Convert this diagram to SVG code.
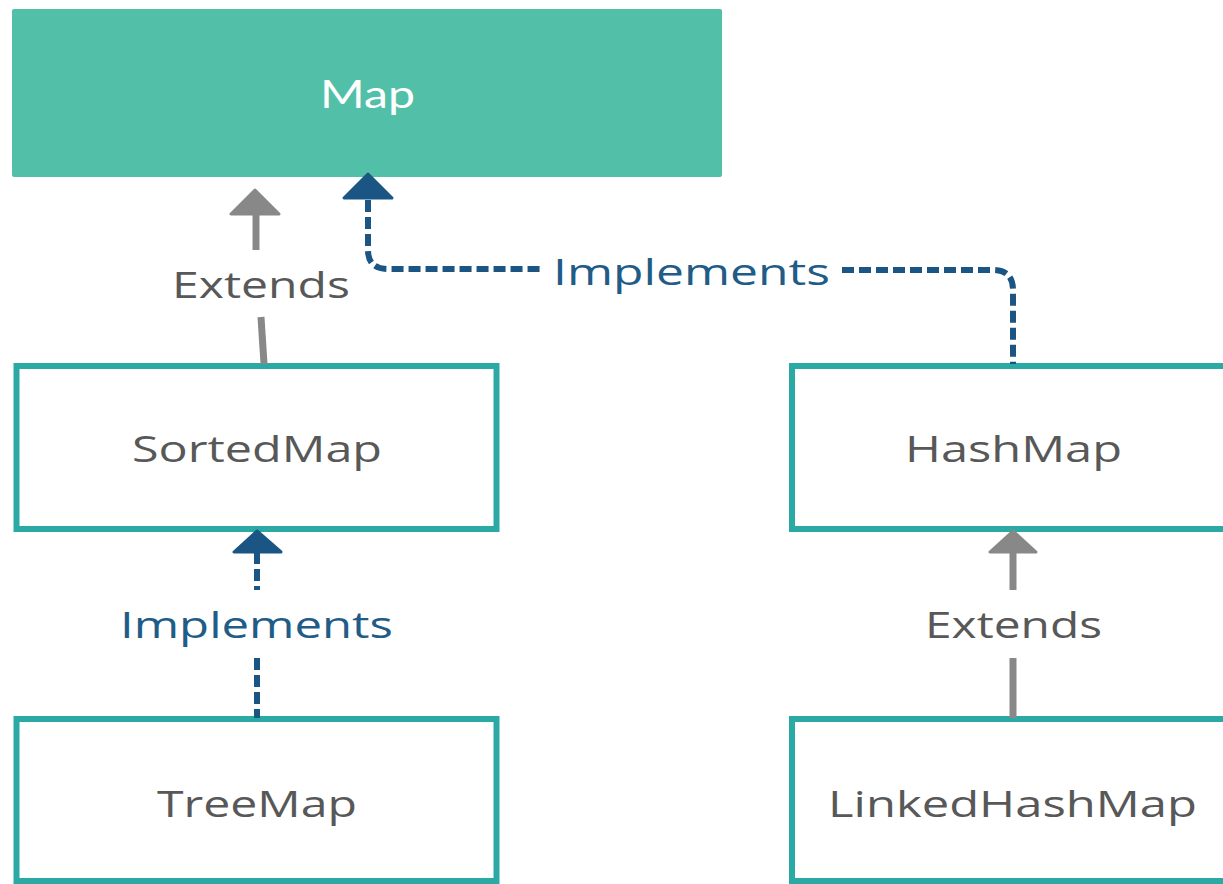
<svg xmlns="http://www.w3.org/2000/svg" width="1223" height="884" viewBox="0 0 1223 884">
<style>
.box{fill:#ffffff;stroke:#2ba9a5;stroke-width:6}
.lbl{font-family:"Open Sans","Liberation Sans",sans-serif;font-size:37px;fill:#585858;text-anchor:start}
.impl{font-family:"Open Sans","Liberation Sans",sans-serif;font-size:37px;fill:#1f5c87}
.ext{font-family:"Open Sans","Liberation Sans",sans-serif;font-size:37px;fill:#585858}
.dash{fill:none;stroke:#1a5583;stroke-width:6;stroke-dasharray:12 5}
.solid{fill:none;stroke:#888888;stroke-width:7}
.headB{fill:#1a5583;stroke:#1a5583;stroke-width:3;stroke-linejoin:round}
.headG{fill:#888888;stroke:#888888;stroke-width:3;stroke-linejoin:round}
</style>
<rect width="1223" height="884" fill="#ffffff"/>
<g id="map">
<rect x="12" y="9" width="710" height="168" rx="2" fill="#52bfa8"/>
<text x="320" y="108" font-family="Lato,'Open Sans',sans-serif" font-size="39" fill="#ffffff" textLength="95" lengthAdjust="spacingAndGlyphs">Map</text>
</g>
<g id="sortedmap">
<rect class="box" x="16.5" y="366" width="480" height="163"/>
<text class="lbl" x="132" y="462" textLength="250" lengthAdjust="spacingAndGlyphs">SortedMap</text>
</g>
<g id="hashmap">
<rect class="box" x="792" y="366" width="500" height="163"/>
<text class="lbl" x="905" y="462" textLength="217" lengthAdjust="spacingAndGlyphs">HashMap</text>
</g>
<g id="treemap">
<rect class="box" x="16.5" y="719" width="480" height="162"/>
<text class="lbl" x="157" y="817" textLength="200" lengthAdjust="spacingAndGlyphs">TreeMap</text>
</g>
<g id="linkedhashmap">
<rect class="box" x="792" y="719" width="500" height="162"/>
<text class="lbl" x="828" y="817" textLength="369" lengthAdjust="spacingAndGlyphs">LinkedHashMap</text>
</g>
<g id="connectors">
<line class="solid" x1="256" y1="214" x2="256" y2="250"/>
<line class="solid" x1="261" y1="317" x2="264" y2="364"/>
<polygon class="headG" points="255,190 231,214 279,214"/>
<text class="ext" x="172" y="298" textLength="178" lengthAdjust="spacingAndGlyphs">Extends</text>
<path class="dash" d="M368,200 V250 Q368,269 388,269 H544"/>
<path class="dash" d="M842,270 H993 Q1013,270 1013,290 V364"/>
<polygon class="headB" points="368,174 344,198 392,198"/>
<text class="impl" x="553" y="285" textLength="277" lengthAdjust="spacingAndGlyphs">Implements</text>
<path class="dash" d="M257,552 V590"/>
<path class="dash" d="M257,658 V718"/>
<polygon class="headB" points="257,531 234,552 281,552"/>
<text class="impl" x="120" y="638" textLength="273" lengthAdjust="spacingAndGlyphs">Implements</text>
<line class="solid" x1="1013" y1="552" x2="1013" y2="590"/>
<line class="solid" x1="1013" y1="658" x2="1013" y2="718"/>
<polygon class="headG" points="1013,531 990,552 1036,552"/>
<text class="ext" x="925" y="638" textLength="177" lengthAdjust="spacingAndGlyphs">Extends</text>
</g>
</svg>
